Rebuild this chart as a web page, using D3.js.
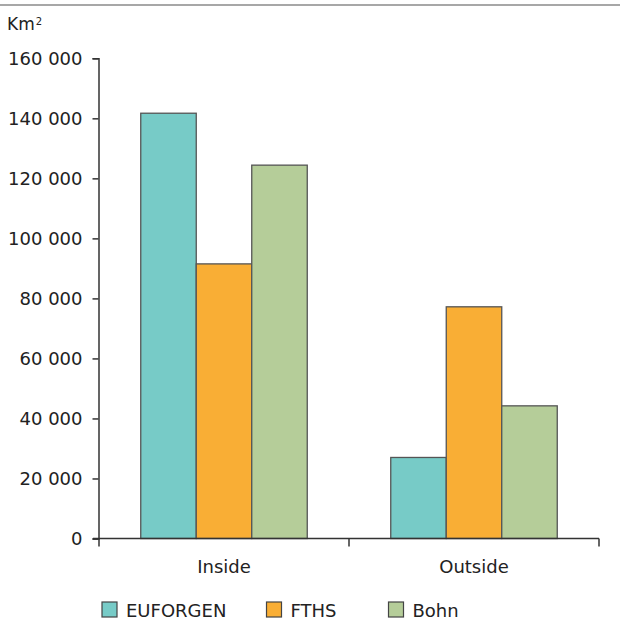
<!DOCTYPE html>
<html>
<head>
<meta charset="utf-8">
<script src="https://cdn.jsdelivr.net/npm/d3@7"></script>
<style>
  html, body { margin: 0; padding: 0; background: #fff; }
  svg { display: block; font-family: "DejaVu Sans", Verdana, sans-serif; }
</style>
</head>
<body>
<svg id="chart" width="620" height="619"></svg>
<script>
// Area (km²) by zone and distribution map source
const categories = ["Inside", "Outside"];
const seriesNames = ["EUFORGEN", "FTHS", "Bohn"];
const euforgen = [141700, 27000];
const fths = [91500, 77200];
const bohn = [124400, 44200];
const yTicks = [0, 20000, 40000, 60000, 80000, 100000, 120000, 140000, 160000];
const colors = ["#77cbc7", "#f9ae35", "#b5cd99"];

const seriesValues = [euforgen, fths, bohn];
const rows = categories.map((c, i) => ({
  category: c,
  values: seriesNames.map((s, j) => ({ series: s, value: seriesValues[j][i] }))
}));

const svg = d3.select("#chart");
const fontSize = 18;

// Rule across the top
svg.append("line")
  .attr("x1", 0).attr("x2", 620)
  .attr("y1", 5).attr("y2", 5)
  .attr("stroke", "#8a8a8a").attr("stroke-width", 1.5);

// Unit label
const unit = svg.append("text")
  .attr("x", 7).attr("y", 30)
  .attr("font-size", 17).attr("fill", "#222");
unit.append("tspan").text("Km");
unit.append("tspan").attr("font-size", 10).attr("dx", 1).attr("dy", -5.5).text("2");

const x0 = d3.scaleBand()
  .domain(categories)
  .range([99, 599])
  .paddingInner(0.334)
  .paddingOuter(0.167);

const x1 = d3.scaleBand()
  .domain(seriesNames)
  .range([0, x0.bandwidth()]);

const y = d3.scaleLinear()
  .domain([0, 160000])
  .range([538.5, 58.3]);

const color = d3.scaleOrdinal().domain(seriesNames).range(colors);

// Bars
const groups = svg.append("g").selectAll("g")
  .data(rows).join("g")
  .attr("transform", d => `translate(${x0(d.category)},0)`);

groups.selectAll("rect")
  .data(d => d.values).join("rect")
  .attr("x", d => x1(d.series))
  .attr("width", x1.bandwidth())
  .attr("y", d => y(d.value))
  .attr("height", d => y(0) - y(d.value))
  .attr("fill", d => color(d.series))
  .attr("stroke", "#555")
  .attr("stroke-width", 1.3);

// Y axis
const fmt = v => d3.format(",")(v).replace(/,/g, " ");
const yAxis = svg.append("g")
  .attr("transform", "translate(98.5,0)")
  .call(d3.axisLeft(y).tickValues(yTicks).tickFormat(fmt).tickSize(6).tickPadding(10));
yAxis.select(".domain").attr("stroke", "#333").attr("stroke-width", 1.5);
yAxis.selectAll(".tick line").attr("stroke", "#333").attr("stroke-width", 1.5);
yAxis.selectAll(".tick text")
  .attr("font-size", fontSize)
  .attr("font-family", "DejaVu Sans, Verdana, sans-serif")
  .attr("fill", "#222");

// X axis: baseline with boundary ticks between categories
const xEdges = [99, 349, 599];
svg.append("line")
  .attr("x1", 93).attr("x2", 599)
  .attr("y1", y(0)).attr("y2", y(0))
  .attr("stroke", "#333").attr("stroke-width", 1.5);
svg.append("g").selectAll("line")
  .data(xEdges).join("line")
  .attr("x1", d => d).attr("x2", d => d)
  .attr("y1", y(0)).attr("y2", y(0) + 8)
  .attr("stroke", "#333").attr("stroke-width", 1.5);

svg.append("g").selectAll("text")
  .data(categories).join("text")
  .attr("x", d => x0(d) + x0.bandwidth() / 2)
  .attr("y", 573)
  .attr("text-anchor", "middle")
  .attr("font-size", fontSize)
  .attr("fill", "#222")
  .text(d => d);

// Legend
const legendX = [102, 266.5, 388.5];
const legend = svg.append("g").selectAll("g")
  .data(seriesNames).join("g")
  .attr("transform", (d, i) => `translate(${legendX[i]},602)`);
legend.append("rect")
  .attr("width", 15).attr("height", 15)
  .attr("fill", d => color(d))
  .attr("stroke", "#444").attr("stroke-width", 1.2);
legend.append("text")
  .attr("x", 24).attr("y", 14.5)
  .attr("font-size", fontSize)
  .attr("fill", "#222")
  .text(d => d);
</script>
</body>
</html>
